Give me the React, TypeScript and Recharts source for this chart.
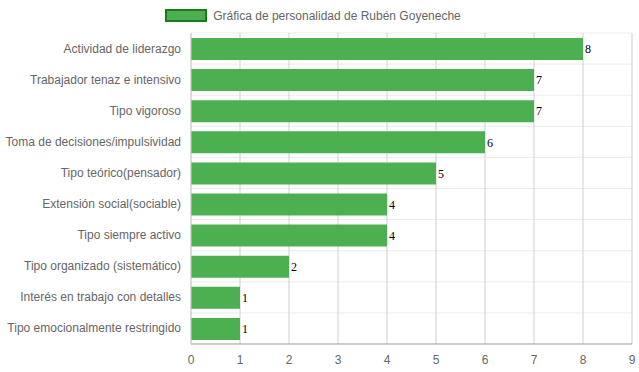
import React from 'react';
import { BarChart, Bar, XAxis, YAxis, CartesianGrid, Legend, LabelList } from 'recharts';

const categories = [
  'Actividad de liderazgo',
  'Trabajador tenaz e intensivo',
  'Tipo vigoroso',
  'Toma de decisiones/impulsividad',
  'Tipo teórico(pensador)',
  'Extensión social(sociable)',
  'Tipo siempre activo',
  'Tipo organizado (sistemático)',
  'Interés en trabajo con detalles',
  'Tipo emocionalmente restringido',
];
const scores = [8, 7, 7, 6, 5, 4, 4, 2, 1, 1];
const xTicks = [0, 1, 2, 3, 4, 5, 6, 7, 8, 9];
const seriesName = 'Gráfica de personalidad de Rubén Goyeneche';

const data = categories.map((name, i) => ({ name, value: scores[i] }));

const FONT = '"Liberation Sans", Arial, Helvetica, sans-serif';

const LegendContent = () => (
  <div style={{ display: 'flex', justifyContent: 'center', alignItems: 'center', height: 25, fontFamily: FONT, fontSize: 12, color: '#666' }}>
    <span style={{ display: 'inline-block', width: 38, height: 9, background: '#4caf50', border: '2px solid #1b7a1b', marginRight: 6, marginTop: -10, marginLeft: -6 }} />
    <span style={{ marginTop: -10 }}>{seriesName}</span>
  </div>
);

// single-line category label, no wrapping
const CategoryTick = ({ x, y, payload }: any) => (
  <text x={x - 2} y={y} dy={4} textAnchor="end" fill="#666" fontSize={12} fontFamily={FONT}>
    {payload.value}
  </text>
);

export default function App() {
  return (
    <div style={{ position: 'absolute', left: 0, top: 0 }}>
      <BarChart
        width={639}
        height={372}
        data={data}
        layout="vertical"
        margin={{ top: 8, right: 7, bottom: 8, left: 0 }}
        barSize={22}
      >
        <Legend verticalAlign="top" content={<LegendContent />} wrapperStyle={{ height: 25 }} />
        <CartesianGrid
          vertical={false}
          stroke="#ebebeb"
          horizontalCoordinatesGenerator={({ offset }: any) =>
            categories.map((_, i) => offset.top + (i * offset.height) / categories.length)
          }
        />
        <CartesianGrid horizontal={false} stroke="#cfcfcf" />
        <XAxis
          type="number"
          domain={[0, 9]}
          ticks={xTicks}
          interval={0}
          height={20}
          tickLine={false}
          axisLine={{ stroke: '#999' }}
          tick={{ fill: '#666', fontSize: 12, fontFamily: FONT }}
          tickMargin={5}
        />
        <YAxis
          type="category"
          dataKey="name"
          width={191}
          tickLine={false}
          axisLine={{ stroke: '#cfcfcf' }}
          tick={<CategoryTick />}
          interval={0}
        />
        <Bar dataKey="value" name={seriesName} fill="#4caf50" isAnimationActive={false}>
          <LabelList dataKey="value" position="right" offset={2} fill="#000" fontSize={12} fontFamily="serif" />
        </Bar>
      </BarChart>
    </div>
  );
}
